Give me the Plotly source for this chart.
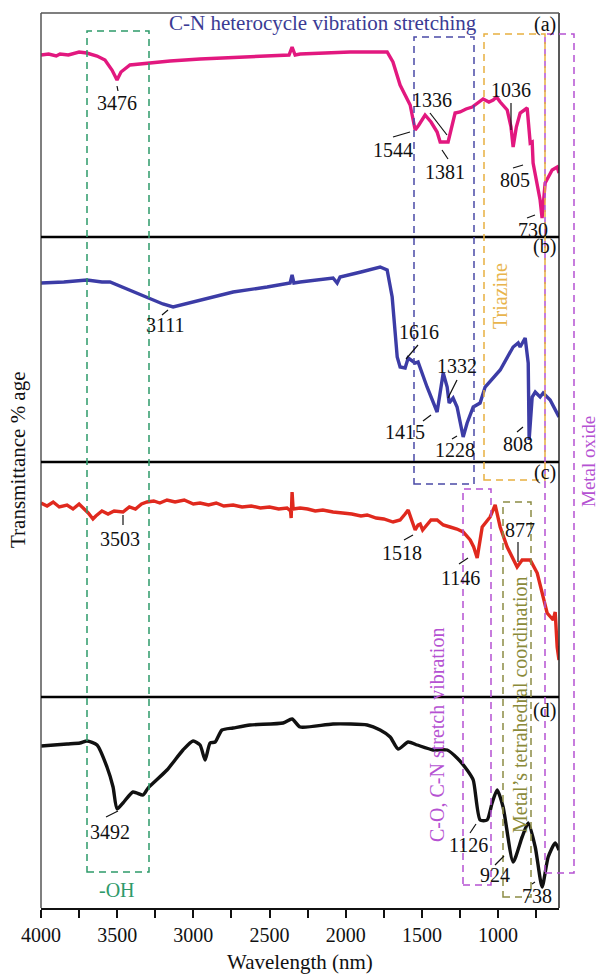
import plotly.graph_objects as go

# ---------------- data (wavenumber, relative transmittance per panel) ----------------
wn_a = [4000, 3950, 3900, 3875, 3820, 3750, 3700, 3632, 3580, 3534, 3501, 3475, 3416, 3291, 3153,
        2956, 2800, 2628, 2431, 2372, 2352, 2332, 2299, 2100, 1971, 1800, 1728, 1690, 1643, 1577,
        1544, 1520, 1479, 1440, 1400, 1380, 1328, 1282, 1249, 1210, 1170, 1098, 1060, 1032, 1010,
        986, 940, 915, 901, 880, 855, 809, 789, 776, 770, 724, 711, 691, 645, 612, 600]
t_a = [182, 183, 181, 183, 182, 185, 184, 181, 177, 167, 157, 165, 172, 174, 176,
       178, 179, 180, 182, 182, 190, 182, 183, 184, 185, 185, 185, 175, 152, 132,
       107, 112, 122, 115, 105, 95, 95, 124, 125, 128, 130, 138, 135, 137, 140,
       135, 127, 110, 90, 110, 124, 129, 94, 95, 74, 37, 19, 54, 67, 70, 64]

wn_b = [4000, 3850, 3698, 3600, 3547, 3420, 3304, 3200, 3133, 3050, 2956, 2739, 2516, 2365, 2352,
        2340, 2299, 2083, 2056, 2037, 1900, 1774, 1728, 1695, 1662, 1643, 1610, 1590, 1544, 1525,
        1466, 1400, 1360, 1334, 1321, 1295, 1269, 1229, 1203, 1163, 1118, 1085, 986, 901, 868,
        855, 822, 802, 796, 776, 756, 724, 704, 658, 600]
t_b = [179, 180, 182, 180, 180, 172, 165, 158, 155, 158, 162, 170, 175, 179, 187,
       179, 180, 184, 179, 185, 190, 195, 192, 165, 105, 95, 94, 104, 99, 100,
       75, 50, 89, 75, 59, 64, 55, 25, 39, 55, 59, 75, 92, 115, 119,
       115, 124, 99, 22, 65, 70, 65, 69, 62, 45]

wn_c = [4000, 3960, 3920, 3880, 3829, 3790, 3750, 3724, 3690, 3659, 3640, 3600, 3560, 3520, 3462,
        3420, 3380, 3340, 3304, 3260, 3220, 3173, 3120, 3060, 3000, 2956, 2900, 2850, 2800, 2739,
        2680, 2620, 2560, 2500, 2440, 2385, 2362, 2358, 2352, 2345, 2299, 2250, 2200, 2150, 2083,
        2020, 1960, 1900, 1859, 1800, 1750, 1689, 1643, 1610, 1590, 1565, 1544, 1525, 1511, 1495,
        1479, 1440, 1400, 1360, 1315, 1270, 1229, 1183, 1160, 1137, 1104, 1052, 1019, 986, 940,
        875, 842, 789, 743, 678, 638, 625, 612, 600]
t_c = [194, 191, 195, 190, 192, 188, 193, 189, 184, 178, 181, 186, 183, 186, 185,
       190, 188, 193, 195, 196, 194, 197, 195, 197, 193, 194, 192, 194, 191, 192,
       190, 191, 189, 190, 188, 189, 186, 179, 205, 188, 189, 188, 186, 187, 185,
       184, 183, 181, 182, 179, 178, 175, 177, 183, 187, 176, 167, 172, 173, 167,
       170, 177, 177, 172, 170, 168, 165, 157, 150, 139, 170, 180, 192, 170, 150,
       130, 137, 137, 124, 84, 77, 85, 50, 37]

wn_d = [4000, 3829, 3744, 3698, 3632, 3567, 3527, 3501, 3462, 3396, 3330, 3297, 3173, 3068, 3002,
        2956, 2923, 2890, 2857, 2812, 2739, 2628, 2411, 2352, 2299, 2083, 1859, 1774, 1708, 1656,
        1590, 1531, 1426, 1334, 1269, 1203, 1163, 1118, 1072, 1039, 1006, 967, 901, 842, 802,
        756, 711, 671, 625, 600]
t_d = [162, 164, 165, 167, 163, 141, 121, 99, 105, 116, 113, 120, 138, 158, 167,
       163, 148, 165, 166, 178, 180, 183, 185, 189, 181, 184, 183, 178, 171, 159,
       166, 163, 158, 158, 150, 138, 128, 88, 88, 105, 118, 101, 46, 71, 85,
       61, 21, 51, 65, 58]

x_ticks = list(range(4000, 599, -250))
x_ticklabels = [str(v) if v % 500 == 0 else "" for v in x_ticks]

# ---------------- layout helpers ----------------
W, H = 599, 974
L, R, T, B = 41, 40, 13, 66
PW = W - L - R
PH = H - T - B
FONT = "Liberation Serif"


def px(x):
    return (x - L) / PW


def py(y):
    return (H - B - y) / PH


fig = go.Figure()
series = [
    (wn_a, t_a, "y4", "#e2187f", "linear"),
    (wn_b, t_b, "y3", "#3c3ca6", "linear"),
    (wn_c, t_c, "y2", "#e0291e", "linear"),
    (wn_d, t_d, "y", "#111111", "spline"),
]
for xs, ys, ax, col, shp in series:
    fig.add_trace(go.Scatter(x=xs, y=ys, xaxis="x", yaxis=ax, mode="lines",
                             line=dict(color=col, width=3.4, shape=shp, smoothing=0.6),
                             showlegend=False, hoverinfo="skip"))

yhidden = dict(visible=False, showgrid=False, zeroline=False, fixedrange=True)
fig.update_layout(
    width=W, height=H,
    margin=dict(l=L, r=R, t=T, b=B, pad=0),
    paper_bgcolor="white", plot_bgcolor="white",
    font=dict(family=FONT, size=20, color="#111"),
    xaxis=dict(range=[4000, 600], anchor="y", tickvals=x_ticks, ticktext=x_ticklabels,
               ticks="outside", ticklen=8, tickwidth=2, tickcolor="#111",
               showline=True, linewidth=2, linecolor="#111", showgrid=False, zeroline=False,
               tickfont=dict(family=FONT, size=20, color="#111")),
    yaxis=dict(domain=[0, py(697)], range=[0, 211], **yhidden),
    yaxis2=dict(domain=[py(697), py(462)], range=[0, 235], **yhidden),
    yaxis3=dict(domain=[py(462), py(237)], range=[0, 225], **yhidden),
    yaxis4=dict(domain=[py(237), 1], range=[0, 224], **yhidden),
)

shapes = []
# frame
shapes.append(dict(type="line", xref="paper", yref="paper", x0=0, x1=0, y0=0, y1=1,
                   line=dict(color="#555", width=1.5)))
shapes.append(dict(type="line", xref="paper", yref="paper", x0=1, x1=1, y0=0, y1=1,
                   line=dict(color="#222", width=1.5)))
shapes.append(dict(type="line", xref="paper", yref="paper", x0=0, x1=1, y0=1, y1=1,
                   line=dict(color="#555", width=1.5)))
for yy in (237, 462, 697):
    shapes.append(dict(type="line", xref="paper", yref="paper", x0=0, x1=1, y0=py(yy), y1=py(yy),
                       line=dict(color="#000", width=2.5)))

# dashed boxes (pixel geometry: x0, x1, y0, y1, colour)
boxes = [
    (87, 149, 31, 872, "#2e9a6a"),
    (414, 474, 37, 484, "#4a4aa6"),
    (545, 574, 34, 873, "#b552d2"),
    (484, 545, 34, 480, "#e8b040"),
    (463, 491, 489, 885, "#b552d2"),
    (503, 531, 502, 897, "#8c8c44"),
]
for x0, x1, y0, y1, col in boxes:
    shapes.append(dict(type="rect", xref="paper", yref="paper", x0=px(x0), x1=px(x1),
                       y0=py(y1), y1=py(y0), line=dict(color=col, width=1.5, dash="7px,5px"),
                       fillcolor="rgba(0,0,0,0)", layer="above"))

# peak labels: (text, text x, text y, leader x0, y0, x1, y1)
peaks = [
    ("3476", 117, 103, 117, 86, 118, 91),
    ("1336", 432, 100, 430, 113, 447, 135),
    ("1544", 393, 150, 393, 137, 410, 132),
    ("1381", 445, 172, 442, 150, 448, 159),
    ("1036", 511, 90, 511, 103, 511, 130),
    ("805", 515, 180, 513, 168, 523, 165),
    ("730", 533, 230, 527, 218, 535, 215),
    ("3111", 165, 325, 162, 315, 168, 310),
    ("1616", 419, 332, 406, 359, 418, 345),
    ("1332", 457, 366, 448, 398, 457, 380),
    ("1415", 405, 432, 423, 421, 431, 415),
    ("1228", 455, 450, 452, 439, 457, 436),
    ("808", 518, 444, 517, 432, 523, 427),
    ("3503", 120, 539, 123, 515, 123, 525),
    ("1518", 402, 553, 404, 540, 413, 535),
    ("1146", 460, 578, 459, 564, 468, 558),
    ("877", 520, 530, 518, 542, 518, 562),
    ("3492", 110, 832, 106, 817, 118, 811),
    ("1126", 468, 845, 470, 833, 476, 824),
    ("924", 495, 875, 495, 865, 504, 856),
    ("738", 537, 896, 532, 884, 535, 882),
]
annotations = []
for txt, tx, ty, lx0, ly0, lx1, ly1 in peaks:
    annotations.append(dict(text=txt, x=px(tx), y=py(ty), xref="paper", yref="paper",
                            showarrow=False, xanchor="center", yanchor="middle",
                            font=dict(family=FONT, size=20, color="#111")))
    shapes.append(dict(type="line", xref="paper", yref="paper", x0=px(lx0), y0=py(ly0),
                       x1=px(lx1), y1=py(ly1), line=dict(color="#111", width=1.2)))

panel_tags = [("(a)", 545, 24), ("(b)", 544, 247), ("(c)", 545, 472), ("(d)", 544, 710)]
for txt, tx, ty in panel_tags:
    annotations.append(dict(text=txt, x=px(tx), y=py(ty), xref="paper", yref="paper",
                            showarrow=False, xanchor="center", yanchor="middle",
                            font=dict(family=FONT, size=20, color="#111")))

labels = [
    ("C-N heterocycle vibration stretching", 323, 23, 0, "#3b3b94", 21),
    ("-OH", 117, 890, 0, "#2e9a6a", 20),
    ("Triazine", 500, 296, -90, "#e8b44c", 20),
    ("Metal oxide", 588, 462, -90, "#b552d2", 19),
    ("Metal\u2019s tetrahedral coordination", 520, 705, -90, "#8a8a3a", 20),
    ("C-O, C-N stretch vibration", 437, 735, -90, "#b552d2", 20),
    ("Transmittance % age", 18, 460, -90, "#111", 21),
    ("Wavelength (nm)", 300, 962, 0, "#111", 21),
]
for txt, tx, ty, ang, col, sz in labels:
    annotations.append(dict(text=txt, x=px(tx), y=py(ty), xref="paper", yref="paper",
                            showarrow=False, xanchor="center", yanchor="middle", textangle=ang,
                            font=dict(family=FONT, size=sz, color=col)))

fig.update_layout(shapes=shapes, annotations=annotations)
fig.write_html("out.html")
